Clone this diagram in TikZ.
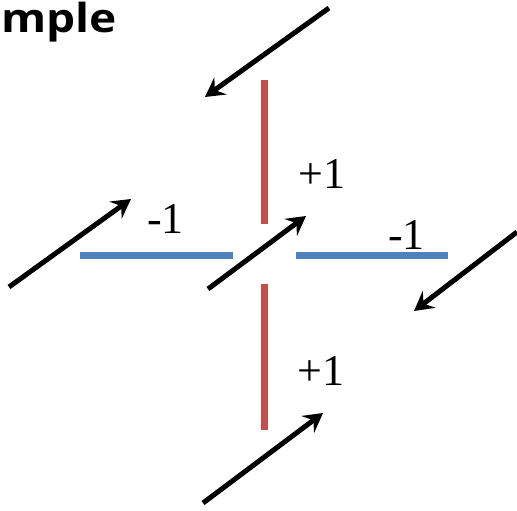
\documentclass[tikz,border=0pt]{standalone}
\usepackage{fontspec}
\setmainfont{Liberation Serif}
\newfontfamily\valfont{Liberation Serif}
\newfontfamily\headfont{Open Sans}
\usepackage{tikz}
\usetikzlibrary{arrows.meta}

\definecolor{segred}{RGB}{192,80,77}
\definecolor{segblue}{RGB}{79,129,189}

\tikzset{
  spin/.style={line width=5pt,-{Stealth[length=19pt,width=21pt,inset=7pt]}},
  vseg/.style={line width=7pt,segred},
  hseg/.style={line width=7pt,segblue},
  val/.style={anchor=base west,inner sep=0pt,font=\valfont\fontsize{44pt}{48pt}\selectfont}
}

\begin{document}
\begin{tikzpicture}[x=1pt,y=-1pt]
\useasboundingbox (0,0) rectangle (517,511);
\node [anchor=base west,inner sep=0pt,xscale=1.15,font=\headfont\bfseries\fontsize{40pt}{44pt}\selectfont] (title) at (1,33) {mple};
% bonds
\coordinate (vt1) at (264,80);  \coordinate (vt2) at (264,224);
\coordinate (vb1) at (264,284); \coordinate (vb2) at (264,430);
\coordinate (hl1) at (80,255);  \coordinate (hl2) at (233,255);
\coordinate (hr1) at (296,255); \coordinate (hr2) at (448,255);
\draw [vseg] (vt1) -- (vt2);
\draw [vseg] (vb1) -- (vb2);
\draw [hseg] (hl1) -- (hl2);
\draw [hseg] (hr1) -- (hr2);
% spins
\coordinate (a1) at (329,8);   \coordinate (b1) at (205,97);
\coordinate (a2) at (9,287);   \coordinate (b2) at (131,199);
\coordinate (a3) at (208,289); \coordinate (b3) at (306,216);
\coordinate (a4) at (517,232); \coordinate (b4) at (414,311);
\coordinate (a5) at (203,503); \coordinate (b5) at (323,413);
\foreach \i in {1,...,5}
  \draw [spin] (a\i) -- (b\i);
% values
\node [val] (lblhl) at (147,233) {-1};
\node [val] (lblvt) at (298,188) {+1};
\node [val] (lblhr) at (388,249) {-1};
\node [val] (lblvb) at (297,385) {+1};
\end{tikzpicture}
\end{document}
